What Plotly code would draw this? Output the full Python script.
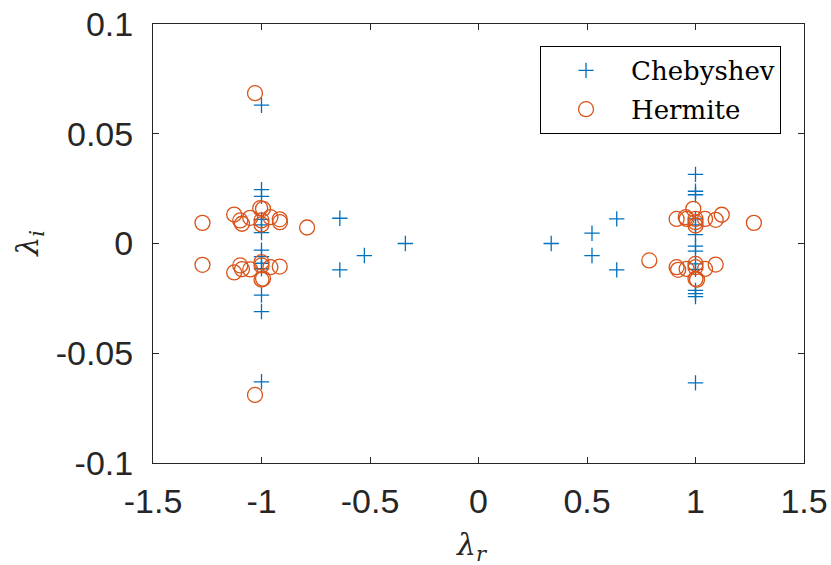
import plotly.graph_objects as go

# Chebyshev eigenvalues (real, imaginary)
cheb_re = [-1.0, -1.0, -1.0, -1.0, -1.0, -1.0, -1.0, -1.0, -1.0, -1.0, -1.0, -1.0, -1.0,
           -0.639, -0.639, -0.526, -0.337, 0.335, 0.523, 0.523, 0.637, 0.637,
           1.0, 1.0, 1.0, 1.0, 1.0, 1.0, 1.0, 1.0, 1.0, 1.0, 1.0, 1.0, 1.0, 1.0]
cheb_im = [0.063, 0.0245, 0.0215, 0.011, 0.0085, 0.005, -0.003, -0.006, -0.009, -0.0115, -0.0235, -0.031, -0.063,
           0.0115, -0.012, -0.0055, 0.0, 0.0, 0.0047, -0.0055, 0.0112, -0.012,
           0.0315, 0.0238, 0.0222, 0.0112, 0.0085, 0.004, -0.0012, -0.0035, -0.0093, -0.0118, -0.0214, -0.0228, -0.0242, -0.0635]

# Hermite eigenvalues (real, imaginary)
herm_re = [-1.03, -1.03, -1.272, -1.272, -0.79,
           -1.126, -1.098, -1.09, -1.052, -1.006, -0.993, -1.0, -1.0, -0.959, -0.916, -0.915,
           -1.126, -1.098, -1.09, -1.052, -1.0, -1.0, -1.0, -0.993, -0.959, -0.916,
           1.269, 0.787,
           0.913, 0.959, 0.99, 1.0, 1.0, 1.0, 1.044, 1.093, 1.121, 0.955,
           0.913, 0.92, 0.959, 1.0, 1.0, 1.0, 1.007, 1.044, 1.093]
herm_im = [0.0685, -0.069, 0.0094, -0.0097, 0.0073,
           0.0132, 0.0105, 0.009, 0.0117, 0.0161, 0.0158, 0.0105, 0.0087, 0.012, 0.011, 0.0097,
           -0.0132, -0.010, -0.0117, -0.0118, -0.0085, -0.010, -0.0164, -0.016, -0.0108, -0.0105,
           0.0094, -0.0077,
           0.0112, 0.0112, 0.0158, 0.0112, 0.0097, 0.0082, 0.0112, 0.0108, 0.0131, 0.012,
           -0.0108, -0.012, -0.0116, -0.0093, -0.0108, -0.0161, -0.0165, -0.0116, -0.0096]

x_ticks = [-1.5, -1, -0.5, 0, 0.5, 1, 1.5]
x_ticklabels = ["-1.5", "-1", "-0.5", "0", "0.5", "1", "1.5"]
y_ticks = [-0.1, -0.05, 0, 0.05, 0.1]
y_ticklabels = ["-0.1", "-0.05", "0", "0.05", "0.1"]

BLUE = "#0072BD"
ORANGE = "#D95319"
AX = "#262626"

fig = go.Figure()
fig.add_trace(go.Scatter(
    x=cheb_re, y=cheb_im, mode="markers", name="Chebyshev", legendgroup="a",
    marker=dict(symbol="cross-thin", size=11, color=BLUE, line=dict(color=BLUE, width=1.3)),
))
fig.add_trace(go.Scatter(
    x=herm_re, y=herm_im, mode="markers", name="Hermite", legendgroup="b",
    marker=dict(symbol="circle-open", size=15, color=ORANGE, line=dict(color=ORANGE, width=1.3)),
))

axis_common = dict(
    showgrid=False, zeroline=False, showline=True, linecolor=AX, linewidth=1,
    mirror="ticks", ticks="inside", ticklen=6, tickwidth=1, tickcolor=AX,
    automargin=False,
    tickfont=dict(family="Liberation Sans, Arial, sans-serif", size=34, color=AX),
)
fig.update_xaxes(range=[-1.5, 1.5], tickvals=x_ticks, ticktext=x_ticklabels,
                 ticklabelstandoff=8, **axis_common)
fig.update_yaxes(range=[-0.1, 0.1], tickvals=y_ticks, ticktext=y_ticklabels,
                 ticklabelstandoff=12, **axis_common)

fig.add_annotation(text="<i>λ</i><sub><i>r</i></sub>", xref="paper", yref="paper",
                   x=0.49, y=-0.19, xanchor="center", yanchor="middle", showarrow=False,
                   font=dict(family="DejaVu Serif, serif", size=30, color=AX))
fig.add_annotation(text="<i>λ</i><sub><i>i</i></sub>", xref="paper", yref="paper",
                   x=-0.19, y=0.5, xanchor="center", yanchor="middle", showarrow=False,
                   textangle=-90,
                   font=dict(family="DejaVu Serif, serif", size=30, color=AX))

fig.update_layout(
    width=831, height=565,
    margin=dict(l=153, r=27, t=24, b=102),
    paper_bgcolor="white", plot_bgcolor="white",
    showlegend=True,
    legend=dict(
        x=0.9647, y=0.95, xanchor="right", yanchor="top",
        bgcolor="white", bordercolor="black", borderwidth=1,
        font=dict(family="DejaVu Serif, serif", size=26, color="black"),
        itemwidth=80, tracegroupgap=2,
    ),
)

fig.write_html("out.html")
